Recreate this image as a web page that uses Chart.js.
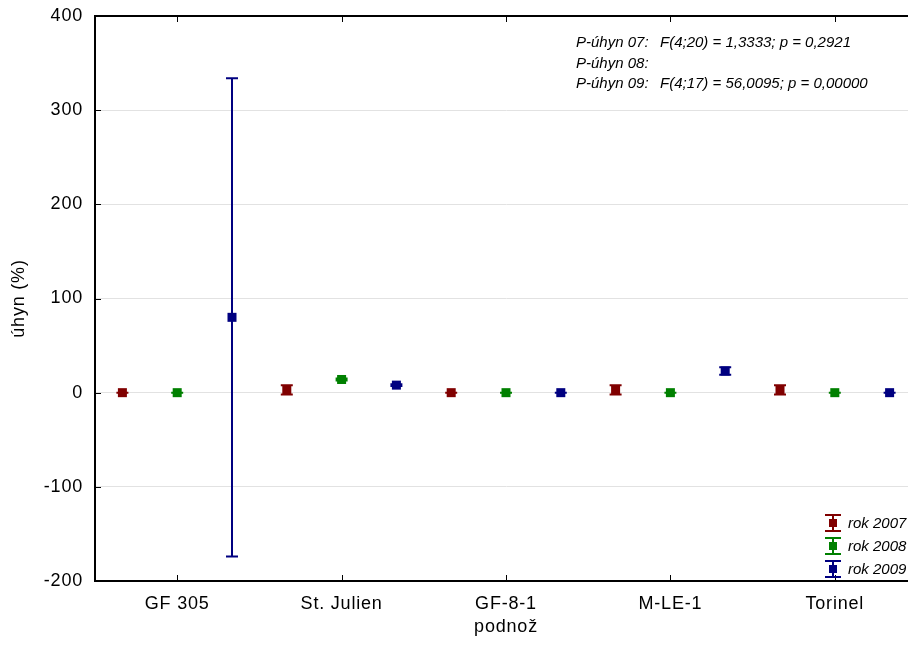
<!DOCTYPE html>
<html>
<head>
<meta charset="utf-8">
<script src="https://cdn.jsdelivr.net/npm/chart.js@4.4.1/dist/chart.umd.min.js"></script>
<style>
    html, body { margin: 0; padding: 0; background: #fff; overflow: hidden; }
    #wrap { width: 908px; height: 655px; overflow: hidden; }
</style>
</head>
<body>
<div id="wrap"><canvas id="chart" width="918" height="655"></canvas></div>
<script>
'use strict';

var categories = ['GF 305', 'St. Julien', 'GF-8-1', 'M-LE-1', 'Torinel'],
    years = ['rok 2007', 'rok 2008', 'rok 2009'],
    mean2007 = [0, 3, 0, 3, 3],
    err2007 = [0, 5, 0, 5, 5],
    mean2008 = [0, 14, 0, 0, 0],
    err2008 = [0, 1, 0, 0, 0],
    mean2009 = [80, 8, 0, 23, 0],
    err2009 = [254, 1, 0, 4, 0],
    yTicks = [-200, -100, 0, 100, 200, 300, 400],
    statNames = ['P-úhyn 07:', 'P-úhyn 08:', 'P-úhyn 09:'],
    statValues = ['F(4;20) = 1,3333; p = 0,2921', '', 'F(4;17) = 56,0095; p = 0,00000'],
    colors = ['#800000', '#008000', '#000080'];

var FONT = '"Liberation Sans", Arial, sans-serif',
    AXIS_FONT = { family: FONT, size: 18 };

var drawErrorSymbol = function (ctx, x, yTop, yMid, yBottom, color, capHalf, box) {
        ctx.save();
        ctx.strokeStyle = color;
        ctx.fillStyle = color;
        ctx.lineWidth = 2;
        ctx.beginPath();
        ctx.moveTo(x, yTop);
        ctx.lineTo(x, yBottom);
        ctx.moveTo(x - capHalf, yTop);
        ctx.lineTo(x + capHalf, yTop);
        ctx.moveTo(x - capHalf, yBottom);
        ctx.lineTo(x + capHalf, yBottom);
        ctx.stroke();
        ctx.fillRect(x - box / 2, yMid - box / 2, box, box);
        ctx.restore();
    },

    // axis labels in the original are spaced a little wider
    spacingPlugin = {
        id: 'spacing',
        beforeUpdate: function (chart) { chart.ctx.letterSpacing = '0.8px'; },
        beforeDraw: function (chart) { chart.ctx.letterSpacing = '0.8px'; }
    },

    errorBarPlugin = {
        id: 'errorBars',
        afterDatasetsDraw: function (chart) {
            var ctx = chart.ctx,
                yScale = chart.scales.y;

            chart.data.datasets.forEach(function (dataset, i) {
                var meta = chart.getDatasetMeta(i);

                meta.data.forEach(function (bar, j) {
                    var m = dataset.data[j],
                        e = dataset.errors[j];

                    drawErrorSymbol(ctx, bar.x,
                        yScale.getPixelForValue(m + e),
                        yScale.getPixelForValue(m),
                        yScale.getPixelForValue(m - e),
                        colors[i], 6, 9);
                });
            });
        }
    },

    framePlugin = {
        id: 'frame',
        afterDraw: function (chart) {
            var ctx = chart.ctx,
                area = chart.chartArea,
                xScale = chart.scales.x,
                yScale = chart.scales.y;

            ctx.save();
            ctx.letterSpacing = '0px';
            ctx.strokeStyle = '#000';
            ctx.lineWidth = 2;
            ctx.beginPath();
            ctx.moveTo(area.left - 1, area.top);
            ctx.lineTo(area.right + 2, area.top);
            ctx.stroke();

            ctx.lineWidth = 1;
            ctx.beginPath();
            xScale.ticks.forEach(function (tick, i) {
                var x = Math.round(xScale.getPixelForTick(i)) + 0.5;
                ctx.moveTo(x, area.top);
                ctx.lineTo(x, area.top + 6);
                ctx.moveTo(x, area.bottom);
                ctx.lineTo(x, area.bottom - 6);
            });
            yScale.ticks.forEach(function (tick, i) {
                var y = Math.round(yScale.getPixelForTick(i)) + 0.5;
                ctx.moveTo(area.left, y);
                ctx.lineTo(area.left + 6, y);
            });
            ctx.stroke();

            // statistics box
            ctx.fillStyle = '#000';
            ctx.font = 'italic 15px ' + FONT;
            ctx.textBaseline = 'alphabetic';
            ctx.textAlign = 'left';
            statNames.forEach(function (name, i) {
                ctx.fillText(name, 576, 47 + i * 20.5);
                ctx.fillText(statValues[i], 660, 47 + i * 20.5);
            });

            // legend
            ctx.textBaseline = 'middle';
            years.forEach(function (year, i) {
                var y = 523 + i * 23;
                drawErrorSymbol(ctx, 833, y - 8, y, y + 8, colors[i], 8, 8);
                ctx.fillStyle = '#000';
                ctx.fillText(year, 848, y + 1);
            });
            ctx.restore();
        }
    },

    buildDataset = function (label, means, errors) {
        return {
            label: label,
            data: means,
            errors: errors,
            backgroundColor: 'rgba(0,0,0,0)',
            borderWidth: 0,
            categoryPercentage: 1,
            barPercentage: 1
        };
    };

new Chart(document.getElementById('chart').getContext('2d'), {
    type: 'bar',
    data: {
        labels: categories,
        datasets: [
            buildDataset(years[0], mean2007, err2007),
            buildDataset(years[1], mean2008, err2008),
            buildDataset(years[2], mean2009, err2009)
        ]
    },
    options: {
        responsive: false,
        animation: false,
        layout: { padding: { top: 16, right: 1, left: 0, bottom: 0 } },
        plugins: {
            legend: { display: false },
            tooltip: { enabled: false }
        },
        scales: {
            x: {
                grid: { display: true, drawOnChartArea: false, drawTicks: false, offset: false },
                border: { color: '#000', width: 2 },
                ticks: { color: '#000', padding: 12, maxRotation: 0, font: AXIS_FONT },
                title: {
                    display: true,
                    text: 'podnož',
                    color: '#000',
                    font: AXIS_FONT,
                    padding: { top: 0, bottom: 17 }
                },
                afterFit: function (scale) {
                    scale.height = 74;
                    scale.paddingLeft = 0;
                    scale.paddingRight = 0;
                }
            },
            y: {
                min: -200,
                max: 400,
                afterBuildTicks: function (scale) {
                    scale.ticks = yTicks.map(function (v) { return { value: v }; });
                },
                grid: { color: '#e2e2e2', lineWidth: 1, drawTicks: false },
                border: { color: '#000', width: 2 },
                ticks: { color: '#000', padding: 12, font: AXIS_FONT },
                title: {
                    display: true,
                    text: 'úhyn (%)',
                    color: '#000',
                    font: AXIS_FONT,
                    padding: { top: 8, bottom: 0 }
                },
                afterFit: function (scale) {
                    scale.width = 95;
                    scale.paddingTop = 0;
                    scale.paddingBottom = 0;
                }
            }
        }
    },
    plugins: [spacingPlugin, errorBarPlugin, framePlugin]
});
</script>
</body>
</html>
